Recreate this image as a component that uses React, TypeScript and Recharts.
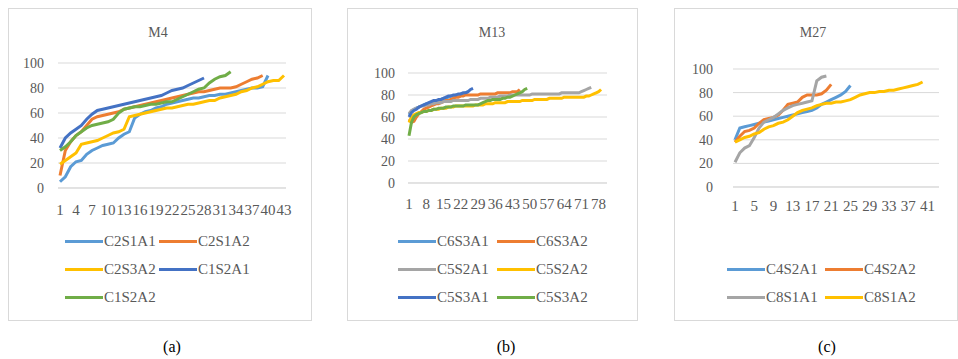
import React from 'react';
import { CartesianGrid, Line, LineChart, XAxis, YAxis } from 'recharts';

const FONT = "'Liberation Serif', serif";
const TEXT = '#595959';
const GRID = '#d9d9d9';

// M4 panel (a)
const m4Cats = [
  1, 2, 3, 4, 5, 6, 7, 8, 9, 10, 11, 12, 13, 14, 15, 16, 17, 18, 19, 20, 21, 22,
  23, 24, 25, 26, 27, 28, 29, 30, 31, 32, 33, 34, 35, 36, 37, 38, 39, 40, 41, 42, 43,
];
const c2s1a1 = [
  5, 9, 17, 21, 22, 27, 30, 32, 34, 35, 36, 40, 43, 45, 56, 59, 61, 62, 64, 65,
  67, 68, 69, 70, 71, 72, 72, 73, 74, 74, 75, 75, 76, 77, 78, 79, 80, 80, 81, 90,
];
const c2s1a2 = [
  10, 30, 37, 42, 45, 50, 55, 57, 58, 59, 60, 61, 63, 64, 65, 66, 67, 68, 69, 70,
  71, 72, 73, 74, 75, 76, 77, 77, 78, 79, 80, 80, 80, 81, 83, 85, 87, 88, 90,
];
const c2s3a2 = [
  19, 22, 25, 28, 35, 36, 37, 38, 40, 42, 44, 45, 47, 57, 58, 59, 60, 61, 62, 63,
  64, 64, 65, 66, 67, 67, 68, 69, 70, 70, 72, 73, 74, 75, 77, 78, 80, 81, 83, 85,
  86, 86, 90,
];
const c1s2a1 = [
  32, 40, 44, 47, 50, 55, 59, 62, 63, 64, 65, 66, 67, 68, 69, 70, 71, 72, 73, 74,
  76, 78, 79, 80, 82, 84, 86, 88,
];
const c1s2a2 = [
  30, 33, 37, 42, 45, 48, 50, 51, 52, 53, 55, 60, 63, 64, 65, 65, 66, 67, 67, 68,
  69, 69, 71, 73, 75, 77, 79, 80, 84, 87, 89, 90, 93,
];

// M13 panel (b)
const m13Cats = [
  1, 2, 3, 4, 5, 6, 7, 8, 9, 10, 11, 12, 13, 14, 15, 16, 17, 18, 19, 20, 21, 22,
  23, 24, 25, 26, 27, 28, 29, 30, 31, 32, 33, 34, 35, 36, 37, 38, 39, 40, 41, 42,
  43, 44, 45, 46, 47, 48, 49, 50, 51, 52, 53, 54, 55, 56, 57, 58, 59, 60, 61, 62,
  63, 64, 65, 66, 67, 68, 69, 70, 71, 72, 73, 74, 75, 76, 77, 78, 79, 80, 81,
];
const c6s3a1 = [
  62, 65, 67, 68, 69, 70, 71, 72, 72, 73, 74, 75, 75, 76, 77, 77, 78, 79, 79, 80,
  80, 81, 81, 82, 83,
];
const c6s3a2 = [
  58, 55, 56, 60, 63, 65, 67, 68, 69, 70, 71, 72, 72, 73, 74, 75, 75, 76, 77, 78,
  78, 79, 79, 80, 80, 80, 80, 80, 80, 81, 81, 81, 81, 81, 81, 81, 82, 82, 82, 82,
  82, 82, 83, 83, 83, 85,
];
const c5s2a1 = [
  63, 66, 67, 68, 69, 70, 70, 71, 71, 72, 72, 73, 73, 73, 74, 74, 74, 74, 75, 75,
  75, 75, 75, 75, 75, 76, 76, 76, 76, 77, 77, 77, 77, 78, 78, 78, 78, 79, 79, 79,
  79, 80, 80, 80, 80, 80, 80, 80, 80, 80, 81, 81, 81, 81, 81, 81, 81, 81, 81, 81,
  81, 81, 82, 82, 82, 82, 82, 82, 82, 82, 83, 84, 85, 86, 87,
];
const c5s2a2 = [
  55, 60, 62, 63, 64, 64, 65, 65, 66, 66, 67, 67, 67, 68, 68, 68, 69, 69, 69, 70,
  70, 70, 70, 70, 70, 70, 70, 71, 71, 71, 71, 72, 72, 72, 72, 73, 73, 73, 73, 73,
  74, 74, 74, 74, 74, 74, 75, 75, 75, 75, 75, 76, 76, 76, 76, 76, 76, 77, 77, 77,
  77, 77, 77, 78, 78, 78, 78, 78, 78, 78, 78, 78, 79, 79, 80, 81, 82, 83, 85,
];
const c5s3a1 = [
  60, 64, 66, 67, 69, 70, 71, 72, 73, 74, 75, 75, 76, 76, 77, 78, 79, 79, 80, 80,
  81, 81, 82, 82, 83, 85, 86,
];
const c5s3a2 = [
  43, 55, 60, 62, 63, 64, 65, 65, 66, 66, 67, 67, 68, 68, 68, 69, 69, 69, 70, 70,
  70, 70, 70, 71, 71, 71, 71, 71, 71, 72, 73, 74, 75, 75, 76, 76, 76, 76, 77, 77,
  78, 78, 79, 80, 81, 82, 83, 85, 86,
];

// M27 panel (c)
const m27Cats = [
  1, 2, 3, 4, 5, 6, 7, 8, 9, 10, 11, 12, 13, 14, 15, 16, 17, 18, 19, 20, 21, 22,
  23, 24, 25, 26, 27, 28, 29, 30, 31, 32, 33, 34, 35, 36, 37, 38, 39, 40, 41, 42, 43,
];
const c4s2a1 = [
  40, 50, 51, 52, 53, 54, 55, 56, 57, 58, 59, 60, 61, 62, 63, 64, 65, 67, 70, 72,
  74, 76, 78, 81, 86,
];
const c4s2a2 = [
  38, 43, 47, 48, 50, 54, 57, 58, 59, 61, 65, 70, 71, 72, 76, 78, 78, 78, 79, 82, 87,
];
const c8s1a1 = [
  21, 29, 33, 35, 42, 50, 55, 57, 59, 62, 65, 67, 69, 70, 71, 72, 73, 90, 93, 94,
];
const c8s1a2 = [
  38, 40, 42, 43, 45, 46, 49, 51, 52, 54, 55, 57, 60, 63, 65, 66, 67, 69, 70, 71,
  71, 72, 72, 73, 74, 76, 78, 79, 80, 80, 81, 81, 82, 82, 83, 84, 85, 86, 87, 89,
];

const yTicks = [0, 20, 40, 60, 80, 100];

type Series = { name: string; values: number[]; color: string };

const buildRows = (cats: number[], series: Series[]) =>
  cats.map((c, i) => {
    const row: Record<string, any> = { cat: String(c) };
    series.forEach((s, k) => {
      if (i < s.values.length) row['s' + k] = s.values[i];
    });
    return row;
  });

const Panel = (p: any) => {
  const rows = buildRows(p.cats, p.series);
  const xTick = { fill: TEXT, fontSize: 15, fontFamily: FONT };
  const yTick = { fill: TEXT, fontSize: 14, fontFamily: FONT };
  return (
    <>
      <div
        style={{
          position: 'absolute',
          left: p.box[0],
          top: p.box[1],
          width: p.box[2],
          height: p.box[3],
          border: `1px solid ${GRID}`,
          boxSizing: 'border-box',
        }}
      >
        <LineChart
          width={p.box[2] - 2}
          height={230}
          data={rows}
          margin={p.margin}
          style={{ fontFamily: FONT }}
        >
          <CartesianGrid vertical={false} stroke={GRID} />
          <XAxis
            dataKey="cat"
            interval={p.interval}
            tickLine={false}
            axisLine={{ stroke: GRID }}
            tick={xTick}
            tickMargin={p.xTickMargin}
            height={30}
            padding={p.padding}
          />
          <YAxis
            domain={[0, 100]}
            ticks={yTicks}
            interval={0}
            width={35}
            axisLine={false}
            tickLine={false}
            tick={yTick}
            tickMargin={p.yTickMargin}
          />
          {p.series.map((s: Series, k: number) => (
            <Line
              key={s.name}
              dataKey={'s' + k}
              name={s.name}
              type="linear"
              stroke={s.color}
              strokeWidth={3}
              dot={false}
              isAnimationActive={false}
            />
          ))}
        </LineChart>
      </div>
      <div
        style={{
          position: 'absolute',
          left: p.titleX - 40,
          width: 80,
          top: 25,
          lineHeight: '16px',
          fontSize: 14,
          color: TEXT,
          textAlign: 'center',
        }}
      >
        {p.title}
      </div>
      {p.series.map((s: Series, k: number) => (
        <div
          key={s.name}
          style={{
            position: 'absolute',
            left: p.legendLeft + (k % 2) * p.itemWidth,
            top: p.legendTop + Math.floor(k / 2) * 28 - 9,
            height: 18,
            display: 'flex',
            alignItems: 'center',
          }}
        >
          <div style={{ width: 38, height: 3, background: s.color, marginRight: 1 }} />
          <span style={{ fontSize: 15, lineHeight: '18px', color: TEXT }}>{s.name}</span>
        </div>
      ))}
      <div
        style={{
          position: 'absolute',
          left: p.captionX - 30,
          width: 60,
          top: 338,
          lineHeight: '18px',
          fontSize: 16,
          color: '#000',
          textAlign: 'center',
        }}
      >
        {p.caption}
      </div>
    </>
  );
};

const seriesA: Series[] = [
  { name: 'C2S1A1', values: c2s1a1, color: '#5B9BD5' },
  { name: 'C2S1A2', values: c2s1a2, color: '#ED7D31' },
  { name: 'C2S3A2', values: c2s3a2, color: '#FFC000' },
  { name: 'C1S2A1', values: c1s2a1, color: '#4472C4' },
  { name: 'C1S2A2', values: c1s2a2, color: '#70AD47' },
];
const seriesB: Series[] = [
  { name: 'C6S3A1', values: c6s3a1, color: '#5B9BD5' },
  { name: 'C6S3A2', values: c6s3a2, color: '#ED7D31' },
  { name: 'C5S2A1', values: c5s2a1, color: '#A5A5A5' },
  { name: 'C5S2A2', values: c5s2a2, color: '#FFC000' },
  { name: 'C5S3A1', values: c5s3a1, color: '#4472C4' },
  { name: 'C5S3A2', values: c5s3a2, color: '#70AD47' },
];
const seriesC: Series[] = [
  { name: 'C4S2A1', values: c4s2a1, color: '#5B9BD5' },
  { name: 'C4S2A2', values: c4s2a2, color: '#ED7D31' },
  { name: 'C8S1A1', values: c8s1a1, color: '#A5A5A5' },
  { name: 'C8S1A2', values: c8s1a2, color: '#FFC000' },
];

export default function App() {
  return (
    <div
      style={{
        position: 'absolute',
        left: 0,
        top: 0,
        width: 958,
        height: 359,
        background: '#fff',
        fontFamily: FONT,
        overflow: 'hidden',
      }}
    >
      <Panel
        box={[8, 8, 304, 313]}
        title="M4"
        titleX={158}
        cats={m4Cats}
        series={seriesA}
        interval={2}
        margin={{ top: 54, right: 25, left: 14, bottom: 21 }}
        padding={{ left: 2, right: 2 }}
        xTickMargin={10}
        yTickMargin={8}
        legendLeft={65}
        legendTop={241}
        itemWidth={94}
        caption="(a)"
        captionX={172}
      />
      <Panel
        box={[347, 8, 291, 313]}
        title="M13"
        titleX={492}
        cats={m13Cats}
        series={seriesB}
        interval={6}
        margin={{ top: 64, right: 30, left: 25, bottom: 26 }}
        padding={{ left: 1, right: 1 }}
        xTickMargin={9}
        yTickMargin={7}
        legendLeft={398}
        legendTop={241}
        itemWidth={99}
        caption="(b)"
        captionX={506}
      />
      <Panel
        box={[674, 8, 284, 313]}
        title="M27"
        titleX={813}
        cats={m27Cats}
        series={seriesC}
        interval={3}
        margin={{ top: 60, right: 18, left: 23, bottom: 22 }}
        padding={{ left: 2, right: 2 }}
        xTickMargin={7}
        yTickMargin={14}
        legendLeft={727}
        legendTop={269}
        itemWidth={98}
        caption="(c)"
        captionX={827}
      />
    </div>
  );
}
